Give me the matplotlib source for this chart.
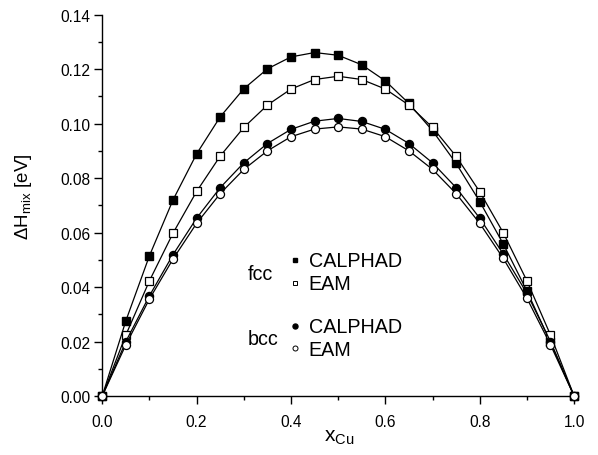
import matplotlib
matplotlib.use("Agg")
import matplotlib.pyplot as plt
from matplotlib.lines import Line2D
from matplotlib.ticker import MultipleLocator

plt.rcParams["font.family"] = ["Liberation Sans", "DejaVu Sans"]
plt.rcParams["mathtext.fontset"] = "custom"
plt.rcParams["mathtext.rm"] = "Liberation Sans"

x_cu = [0.0, 0.05, 0.1, 0.15, 0.2, 0.25, 0.3, 0.35, 0.4, 0.45, 0.5,
        0.55, 0.6, 0.65, 0.7, 0.75, 0.8, 0.85, 0.9, 0.95, 1.0]
fcc_calphad = [0.0, 0.0276, 0.0515, 0.0720, 0.0889, 0.1025, 0.1128, 0.1201, 0.1245, 0.1261, 0.1251,
               0.1216, 0.1157, 0.1074, 0.0974, 0.0854, 0.0714, 0.0558, 0.0386, 0.0197, 0.0]
fcc_eam = [0.0, 0.0224, 0.0423, 0.0598, 0.0751, 0.0881, 0.0986, 0.1068, 0.1127, 0.1162, 0.1174,
           0.1162, 0.1127, 0.1068, 0.0986, 0.0880, 0.0750, 0.0599, 0.0423, 0.0224, 0.0]
bcc_calphad = [0.0, 0.0200, 0.0368, 0.0519, 0.0653, 0.0765, 0.0856, 0.0927, 0.0979, 0.1009, 0.1019,
               0.1008, 0.0979, 0.0927, 0.0856, 0.0765, 0.0653, 0.0521, 0.0377, 0.0200, 0.0]
bcc_eam = [0.0, 0.0188, 0.0356, 0.0503, 0.0634, 0.0743, 0.0832, 0.0900, 0.0952, 0.0980, 0.0988,
           0.0980, 0.0952, 0.0900, 0.0832, 0.0743, 0.0634, 0.0505, 0.0359, 0.0188, 0.0]

fig = plt.figure(figsize=(5.98, 4.56), dpi=100)
ax = fig.add_axes([0.171, 0.1294, 0.789, 0.8362])

style = dict(color="black", lw=0.9, clip_on=False, zorder=3)
ax.plot(x_cu, fcc_calphad, marker="s", ms=5.3, mfc="black", mec="black", **style)
ax.plot(x_cu, fcc_eam, marker="s", ms=5.3, mfc="white", mec="black", mew=0.9, **style)
ax.plot(x_cu, bcc_calphad, marker="o", ms=5.8, mfc="black", mec="black", **style)
ax.plot(x_cu, bcc_eam, marker="o", ms=5.8, mfc="white", mec="black", mew=0.9, **style)

ax.set_xlim(0, 1.0)
ax.set_ylim(0, 0.14)
ax.xaxis.set_major_locator(MultipleLocator(0.2))
ax.xaxis.set_minor_locator(MultipleLocator(0.1))
ax.yaxis.set_major_locator(MultipleLocator(0.02))
ax.yaxis.set_minor_locator(MultipleLocator(0.01))
ax.xaxis.set_major_formatter(plt.FormatStrFormatter("%.1f"))
ax.yaxis.set_major_formatter(plt.FormatStrFormatter("%.2f"))
ax.tick_params(which="major", direction="out", length=5.8, width=1, labelsize=11.2)
ax.tick_params(which="minor", direction="out", length=3, width=1)
ax.tick_params(axis="x", which="major", pad=7)
ax.tick_params(axis="y", which="major", pad=2.5)
for s in ["top", "right"]:
    ax.spines[s].set_visible(False)
for s in ["left", "bottom"]:
    ax.spines[s].set_linewidth(1)

ax.set_xlabel(r"x$_{\rm Cu}$", fontsize=15)
ax.set_ylabel(r"$\Delta$H$_{\rm mix}$ [eV]", fontsize=13.5)
ax.xaxis.set_label_coords(0.502, -0.082)
ax.yaxis.set_label_coords(-0.145, 0.525)

fcc_handles = [Line2D([], [], ls="none", marker="s", ms=3.3, mfc="black", mec="black"),
               Line2D([], [], ls="none", marker="s", ms=3.3, mfc="white", mec="black", mew=0.7)]
bcc_handles = [Line2D([], [], ls="none", marker="o", ms=3.6, mfc="black", mec="black"),
               Line2D([], [], ls="none", marker="o", ms=3.6, mfc="white", mec="black", mew=0.7)]
labels = ["CALPHAD", "EAM"]
leg_kw = dict(frameon=False, fontsize=14.2, handlelength=0.45, handletextpad=0.45,
              labelspacing=0.2, borderpad=0, borderaxespad=0, loc="center left")
leg1 = ax.legend(fcc_handles, labels, bbox_to_anchor=(0.4, 0.324), **leg_kw)
ax.add_artist(leg1)
ax.legend(bcc_handles, labels, bbox_to_anchor=(0.4, 0.151), **leg_kw)
ax.text(0.309, 0.320, "fcc", transform=ax.transAxes, fontsize=14.2, va="center", ha="left")
ax.text(0.309, 0.152, "bcc", transform=ax.transAxes, fontsize=14.2, va="center", ha="left")

fig.savefig("out.png", dpi=100)
